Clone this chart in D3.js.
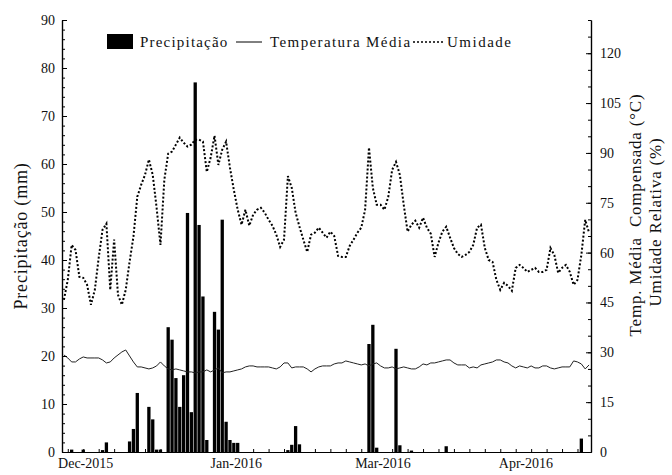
<!DOCTYPE html>
<html>
<head>
<meta charset="utf-8">
<script src="https://cdn.jsdelivr.net/npm/d3@7"></script>
<style>
  body { margin: 0; background: #fff; }
  text { font-family: "Liberation Serif", "Times New Roman", "DejaVu Serif", serif; fill: #111; }
</style>
</head>
<body>
<svg id="chart" width="672" height="475"></svg>
<script>
// daily series, one value per case (left: mm, right: °C and %)
const precipDays = [2, 5, 10, 11, 17, 18, 19, 22, 23, 24, 25, 27, 28, 29, 30, 31, 32, 33, 34, 35, 36, 37,
  39, 40, 41, 42, 43, 44, 45, 58, 59, 60, 61, 79, 80, 81, 86, 87, 90, 99, 134];
const precipMm = [0.5, 0.5, 0.4, 2.0, 2.2, 4.8, 12.3, 9.4, 6.8, 0.5, 0.5, 26, 23.4, 15.4, 9.4, 16, 49.8, 8.3, 77, 47.3, 32.4, 2.5,
  29.2, 25.5, 48.4, 6.3, 2.5, 1.9, 1.9, 0.4, 1.5, 5.4, 1.6, 22.5, 26.5, 0.9, 21.5, 1.4, 0.3, 1.2, 2.8];

const tempMedia = [
  29.2, 28.3, 27.1, 27.1, 28.0, 28.6, 28.3, 28.3, 28.3, 28.3,
  27.7, 26.8, 27.1, 28.3, 29.2, 30.1, 30.7, 28.9, 27.1, 25.6,
  25.6, 25.3, 25.0, 25.3, 25.9, 27.1, 25.9, 25.0, 24.7, 25.0,
  24.7, 24.4, 24.1, 24.1, 23.8, 24.1, 24.1, 24.7, 24.1, 24.7,
  25.3, 23.8, 24.1, 24.1, 24.4, 24.7, 25.0, 25.6, 25.9, 25.9,
  25.6, 25.6, 25.6, 25.6, 25.3, 25.0, 25.6, 26.8, 26.8, 25.3,
  25.6, 25.6, 25.6, 25.0, 24.1, 25.0, 25.6, 25.9, 25.9,
  25.9, 26.5, 26.8, 26.8, 27.4, 27.1, 26.8, 26.5, 26.2, 26.5,
  25.9, 26.5, 26.8, 25.9, 25.3, 25.3, 25.6, 25.0, 25.3, 25.6,
  25.3, 25.0, 25.0, 25.6, 26.5, 26.2, 26.8, 26.8, 27.1, 27.4,
  27.7, 27.7, 26.8, 26.2, 26.2, 26.2, 25.3, 25.6, 25.3, 26.2,
  26.5, 26.8, 27.1, 27.7, 27.7, 27.1, 26.8, 25.9, 25.3, 25.9,
  25.6, 25.3, 25.9, 25.3, 25.3, 25.9, 25.9, 25.3, 25.0, 25.3,
  25.6, 25.6, 25.6, 27.4, 27.1, 26.5, 25.0, 26.2
];

const umidade = [
  45.8, 51.8, 62.3, 60.8, 52.7, 52.4, 50.3, 44.3, 48.8, 58.4,
  66.9, 68.7, 48.8, 63.9, 47.3, 44.3, 48.8, 57.2, 64.8, 76.8,
  80.4, 83.4, 88.0, 83.4, 73.5, 62.3, 81.9, 89.8, 90.4, 92.5,
  94.6, 93.1, 91.9, 92.5, 94.0, 94.0, 93.4, 84.3, 88.6, 95.2,
  86.4, 91.0, 93.4, 85.5, 78.9, 72.9, 68.4, 72.9, 68.1, 71.4,
  72.9, 73.5, 72.0, 69.9, 68.1, 65.4, 61.7, 63.9, 83.0, 79.5,
  72.0, 67.8, 63.9, 60.2, 65.4, 66.0, 67.5, 66.0, 64.5, 66.3,
  65.0, 59.0, 58.7, 58.7, 62.0, 63.9, 66.0, 67.5, 72.9, 91.6,
  79.5, 74.4, 74.4, 72.9, 76.8, 84.9, 87.3, 83.4, 74.4, 66.3,
  68.4, 69.6, 67.5, 70.5, 67.5, 65.7, 58.7, 63.0, 66.3, 67.8,
  64.5, 61.4, 59.6, 58.7, 59.3, 60.2, 62.3, 67.5, 68.4, 61.4,
  57.8, 57.2, 51.8, 48.8, 50.9, 50.0, 48.5, 55.4, 56.3, 55.4,
  54.2, 54.8, 55.4, 54.2, 54.2, 54.8, 61.4, 59.3, 53.9, 55.4,
  56.3, 54.2, 50.3, 51.8, 59.3, 69.9, 66.0
];

const monthLabels = ["Dec-2015", "Jan-2016", "Mar-2016", "Apr-2016"];
const monthAt = [5.5, 44.5, 82.5, 119.5];
const leftTicks = d3.range(0, 91, 10);
const rightTicks = d3.range(0, 121, 15);

const N = umidade.length;
const svg = d3.select("#chart");
const plotL = 62, plotR = 591, plotT = 20, plotB = 452;
const serif = "Liberation Serif, Times New Roman, serif";

const x = d3.scaleLinear().domain([-0.5, N - 0.5]).range([plotL, plotR]);
const yL = d3.scaleLinear().domain([0, 90]).range([plotB, plotT]);
const yR = d3.scaleLinear().domain([0, 130]).range([plotB, plotT]);

// bars
const barW = 3.3;
svg.append("g").selectAll("rect")
  .data(precipDays.map((d, i) => ({ day: d, mm: precipMm[i] })))
  .enter().append("rect")
  .attr("x", d => x(d.day) - barW / 2)
  .attr("y", d => yL(d.mm))
  .attr("width", barW)
  .attr("height", d => plotB - yL(d.mm))
  .attr("fill", "#000");

// lines
const idx = d3.range(N);
svg.append("path")
  .datum(idx)
  .attr("fill", "none").attr("stroke", "#222").attr("stroke-width", 1)
  .attr("d", d3.line().x(i => x(i)).y(i => yR(tempMedia[i])));

svg.append("path")
  .datum(idx)
  .attr("fill", "none").attr("stroke", "#000").attr("stroke-width", 2)
  .attr("stroke-dasharray", "2,2")
  .attr("d", d3.line().x(i => x(i)).y(i => yR(umidade[i])));

// axes
const axL = svg.append("g").attr("transform", `translate(${plotL},0)`)
  .call(d3.axisLeft(yL).tickValues(leftTicks).tickSize(-5).tickSizeOuter(0).tickPadding(7));
svg.append("g").attr("transform", `translate(${plotL},0)`)
  .call(d3.axisLeft(yL).tickValues(d3.range(0, 91, 2)).tickSize(-3).tickFormat("").tickSizeOuter(0));

const axR = svg.append("g").attr("transform", `translate(${plotR},0)`)
  .call(d3.axisRight(yR).tickValues(rightTicks).tickSize(-5).tickSizeOuter(0).tickPadding(9));
svg.append("g").attr("transform", `translate(${plotR},0)`)
  .call(d3.axisRight(yR).tickValues(d3.range(0, 131, 5)).tickSize(-3).tickFormat("").tickSizeOuter(0));

const axB = svg.append("g").attr("transform", `translate(0,${plotB})`)
  .call(d3.axisBottom(x).tickValues(monthAt).tickFormat((d, i) => monthLabels[i]).tickSize(0).tickPadding(6).tickSizeOuter(0));
svg.append("g").attr("transform", `translate(0,${plotB})`)
  .call(d3.axisBottom(x).tickValues(d3.range(1, N, 4)).tickSize(-3).tickFormat("").tickSizeOuter(0));

svg.selectAll(".domain, .tick line").attr("stroke", "#000").attr("stroke-width", 1);
svg.selectAll(".domain").attr("stroke-width", 1.2);
svg.selectAll("g").attr("font-family", serif);
[axL, axR, axB].forEach(a => a.selectAll("text")
  .attr("font-size", 14).attr("fill", "#111"));

// axis titles
svg.append("text")
  .attr("transform", "translate(27,236) rotate(-90)")
  .attr("text-anchor", "middle").attr("font-size", 18).attr("letter-spacing", 0.8)
  .text("Precipitação (mm)");
svg.append("text")
  .attr("transform", "translate(641,215) rotate(-90)")
  .attr("text-anchor", "middle").attr("font-size", 17).attr("letter-spacing", 0.8)
  .attr("xml:space", "preserve")
  .text("Temp. Média  Compensada (°C)");
svg.append("text")
  .attr("transform", "translate(661,222) rotate(-90)")
  .attr("text-anchor", "middle").attr("font-size", 17).attr("letter-spacing", 0.8)
  .text("Umidade Relativa (%)");

// legend
const lg = svg.append("g").attr("font-size", 15).attr("font-family", serif);
lg.append("rect").attr("x", 107).attr("y", 34).attr("width", 26).attr("height", 15).attr("fill", "#000");
lg.append("text").attr("x", 140).attr("y", 47).attr("letter-spacing", 1.2).text("Precipitação");
lg.append("line").attr("x1", 236).attr("x2", 262).attr("y1", 42).attr("y2", 42).attr("stroke", "#000");
lg.append("text").attr("x", 270).attr("y", 47).attr("letter-spacing", 1.4).text("Temperatura Média");
lg.append("line").attr("x1", 413).attr("x2", 445).attr("y1", 42).attr("y2", 42)
  .attr("stroke", "#000").attr("stroke-width", 1.5).attr("stroke-dasharray", "2,2");
lg.append("text").attr("x", 447).attr("y", 47).attr("letter-spacing", 1.5).text("Umidade");
</script>
</body>
</html>
